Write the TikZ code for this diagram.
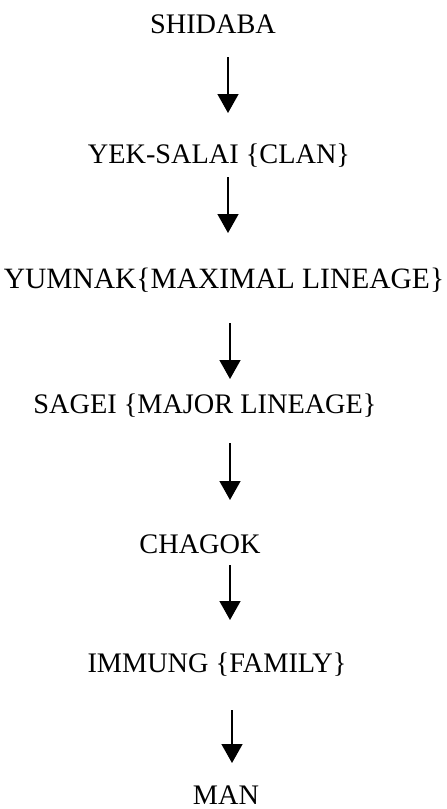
\documentclass[tikz,border=0pt]{standalone}
\usepackage{fontspec}
\setmainfont{Liberation Serif}
\usetikzlibrary{arrows.meta}
\begin{document}
\begin{tikzpicture}[x=1pt,y=-1pt,
  level/.style={anchor=base,inner sep=0pt,font=\fontsize{28.3}{32}\selectfont},
  descent/.style={line width=1.5pt,-{Triangle[width=21pt,length=19pt]}}]
\useasboundingbox (0,0) rectangle (447,809);
% levels of the lineage hierarchy
\node[level] (shidaba) at (213,33)  {SHIDABA};
\node[level] (yek)     at (219,163) {YEK-SALAI \{CLAN\}};
\node[level,font=\fontsize{29.5}{33}\selectfont]
             (yumnak)  at (224,288) {YUMNAK\{MAXIMAL LINEAGE\}};
\node[level] (sagei)   at (205,413) {SAGEI \{MAJOR LINEAGE\}};
\node[level] (chagok)  at (200,553) {CHAGOK};
\node[level] (immung)  at (217,672) {IMMUNG \{FAMILY\}};
\node[level] (man)     at (226,804) {MAN};
% arrow end points
\coordinate (a1) at (228,57);  \coordinate (b1) at (228,113);
\coordinate (a2) at (228,177); \coordinate (b2) at (228,233);
\coordinate (a3) at (230,323); \coordinate (b3) at (230,379);
\coordinate (a4) at (230,443); \coordinate (b4) at (230,500);
\coordinate (a5) at (230,565); \coordinate (b5) at (230,620);
\coordinate (a6) at (232,710); \coordinate (b6) at (232,763);
\foreach \i in {1,...,6} \draw[descent] (a\i) -- (b\i);
\end{tikzpicture}
\end{document}
